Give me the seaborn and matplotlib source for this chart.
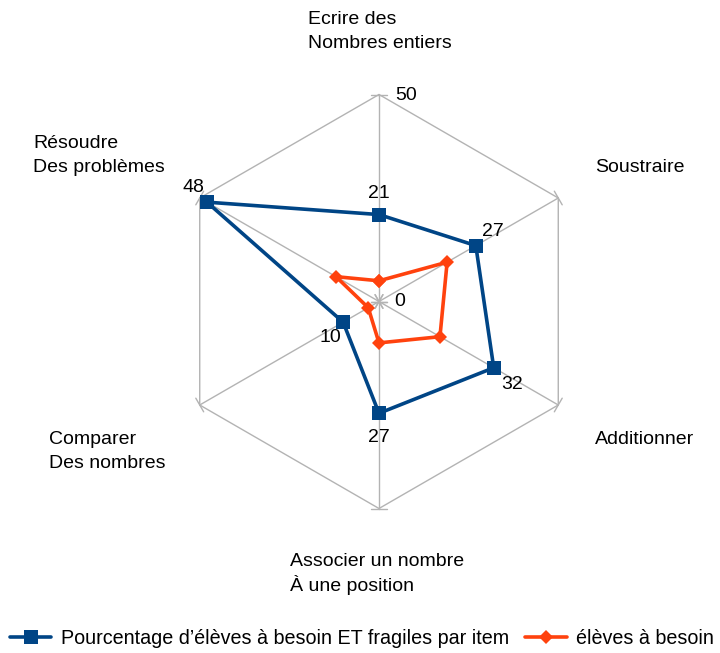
import numpy as np
import pandas as pd
import seaborn as sns
import matplotlib.pyplot as plt

# données du radar
categories = [
    "Ecrire des\nNombres entiers",
    "Soustraire",
    "Additionner",
    "Associer un nombre\nÀ une position",
    "Comparer\nDes nombres",
    "Résoudre\nDes problèmes",
]
fragiles = [21, 27, 32, 27, 10, 48]
besoin = [5, 19, 17, 10, 3, 12]
serie_fragiles = "Pourcentage d’élèves à besoin ET fragiles par item"
serie_besoin = "élèves à besoin"
r_max = 50

BLUE = "#004586"
ORANGE = "#ff420e"
GRID = "#b3b3b3"

W, H = 720, 653
CX, CY, RAD = 379, 301.5, 207  # centre et rayon en pixels


def set_config():
    sns.set_style("white")
    plt.rcParams["font.family"] = ["Liberation Sans", "DejaVu Sans"]
    plt.rcParams["text.color"] = "black"


def fig_xy(px, py):
    return px / W, 1 - py / H


def polar_df(values):
    n = len(values)
    ang = np.arange(n) * 2 * np.pi / n
    vals = list(values) + [values[0]]
    ang = list(ang) + [ang[0]]
    return pd.DataFrame({
        "x": np.array(vals) * np.sin(ang),
        "y": np.array(vals) * np.cos(ang),
        "ordre": range(len(vals)),
    })


def draw():
    fig = plt.figure(figsize=(W / 100, H / 100), dpi=100)
    ax = fig.add_axes([0, 0, 1, 1])
    k = RAD / r_max
    ax.set_xlim(-CX / k, (W - CX) / k)
    ax.set_ylim(-(H - CY) / k, CY / k)
    ax.axis("off")

    n = len(categories)
    ang = np.arange(n) * 2 * np.pi / n

    # grille hexagonale et axes
    outer = polar_df([r_max] * n)
    ax.plot(outer["x"], outer["y"], color=GRID, lw=1, zorder=1)
    for a in ang:
        ax.plot([0, r_max * np.sin(a)], [0, r_max * np.cos(a)], color=GRID, lw=1, zorder=1)
        # graduations a 0 et 50
        for r in (0, r_max):
            px, py = r * np.sin(a), r * np.cos(a)
            tx, ty = np.cos(a) * 1.9, -np.sin(a) * 1.9
            ax.plot([px - tx, px + tx], [py - ty, py + ty], color=GRID, lw=1, zorder=1)

    df_f = polar_df(fragiles)
    df_b = polar_df(besoin)
    sns.lineplot(data=df_f, x="x", y="y", sort=False, estimator=None, ax=ax,
                 color=BLUE, lw=2.6, marker="s", markersize=10, markeredgewidth=0,
                 label=serie_fragiles, zorder=3)
    sns.lineplot(data=df_b, x="x", y="y", sort=False, estimator=None, ax=ax,
                 color=ORANGE, lw=2.6, marker="D", markersize=7.5, markeredgewidth=0,
                 label=serie_besoin, zorder=4)

    fs = 14
    # étiquettes des axes
    label_pos = [(308, 20), (595, 167), (595, 439), (290, 561), (49, 439), (33, 143)]
    for txt, (px, py) in zip(categories, label_pos):
        for i, line in enumerate(txt.split("\n")):
            fig.text(*fig_xy(px, py + i * 24), line, fontsize=fs, ha="left", va="center")

    # valeurs de la série bleue
    val_pos = [(379, 193), (493, 232), (512, 385), (379, 437), (330, 338), (193, 188)]
    for v, (px, py) in zip(fragiles, val_pos):
        fig.text(*fig_xy(px, py), str(v), fontsize=fs, ha="center", va="center")

    fig.text(*fig_xy(395, 95), "50", fontsize=fs, ha="left", va="center")
    fig.text(*fig_xy(394, 301), "0", fontsize=fs, ha="left", va="center")

    ax.legend(loc="center", bbox_to_anchor=(0.503, 1 - 638 / H), bbox_transform=fig.transFigure,
              ncol=2, frameon=False, fontsize=14.2, handlelength=2.1, columnspacing=0.8,
              handletextpad=0.5)

    fig.savefig("out.png", dpi=100)


def main():
    set_config()
    draw()


if __name__ == "__main__":
    main()
